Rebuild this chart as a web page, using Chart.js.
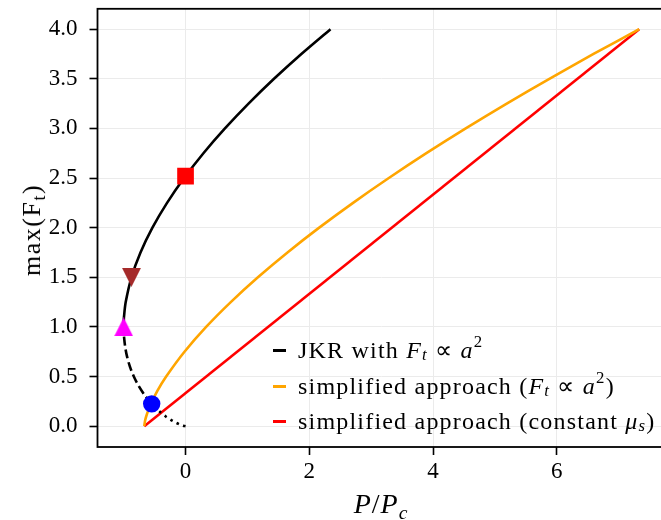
<!DOCTYPE html>
<html>
<head>
<meta charset="utf-8">
<script src="https://cdn.jsdelivr.net/npm/chart.js@4.4.1/dist/chart.umd.min.js"></script>
<style>
html, body { margin: 0; padding: 0; background: #fff; }
#wrap { position: relative; width: 661px; height: 520px; overflow: hidden; font-family: "Liberation Serif", serif; color: #000; }
#plot { position: absolute; left: 0; top: -3px; }
.txt { position: absolute; white-space: nowrap; font-size: 26px; line-height: 1; }
.sub { font-size: 70%; position: relative; top: 0.3em; }
.sup { font-size: 70%; position: relative; top: -0.45em; }
.row { position: absolute; left: 273px; height: 34px; display: flex; align-items: center; font-size: 24px; letter-spacing: 1.2px; white-space: nowrap; }
.swatch { display: inline-block; width: 13px; height: 3px; margin-right: 12px; }
</style>
</head>
<body>
<div id="wrap">
    <canvas id="plot" width="677" height="523"></canvas>

    <div class="txt" id="ytitle" style="left:32px; top:230px; transform: translate(-50%, -50%) rotate(-90deg); letter-spacing: 1.5px;">max(F<span class="sub">t</span>)</div>
    <div class="txt" id="xtitle" style="left:381px; top:504px; font-size:28px; letter-spacing: 1px; transform: translate(-50%, -50%);"><i>P</i>/<i>P</i><span class="sub"><i>c</i></span></div>

    <div class="row" style="top:333px;"><span class="swatch" style="background:#000"></span>JKR with&nbsp;<i>F</i><span class="sub"><i>t</i></span>&nbsp;∝&nbsp;<i>a</i><span class="sup">2</span></div>
    <div class="row" style="top:369px;"><span class="swatch" style="background:#ffa500"></span>simplified approach (<i>F</i><span class="sub"><i>t</i></span>&nbsp;∝&nbsp;<i>a</i><span class="sup">2</span>)</div>
    <div class="row" style="top:404px;"><span class="swatch" style="background:#ff0000"></span>simplified approach (constant&nbsp;<i>μ</i><span class="sub"><i>s</i></span>)</div>
</div>

<script>
// Values (x = P/Pc, y = max(Ft))

// JKR with Ft ~ a^2, stable branch (solid)
const jkrStableP = [-1.0, -0.999, -0.995, -0.967, -0.874, -0.728, -0.535, -0.299, -0.023, 0.289, 0.637, 1.018, 1.430, 1.872, 2.343];
const jkrStableF = [1.0, 1.05, 1.1, 1.25, 1.5, 1.75, 2.0, 2.25, 2.5, 2.75, 3.0, 3.25, 3.5, 3.75, 4.0];

// JKR unstable branch (dashed)
const jkrUnstableP = [-0.547, -0.647, -0.753, -0.836, -0.899, -0.945, -0.976, -0.994, -0.999, -1.0];
const jkrUnstableF = [0.225, 0.3, 0.4, 0.5, 0.6, 0.7, 0.8, 0.9, 0.95, 1.0];

// JKR tail down to zero (dotted)
const jkrTailP = [0.0, -0.037, -0.104, -0.200, -0.324, -0.424, -0.547];
const jkrTailF = [0.0, 0.005, 0.02, 0.05, 0.1, 0.15, 0.225];

// simplified approach (Ft ~ a^2)
const simpA2P = [-0.667, -0.656, -0.635, -0.577, -0.46, -0.313, -0.017, 0.333, 0.731, 1.17, 1.648, 2.161, 2.708, 3.286, 3.893, 4.529, 5.192, 5.881, 6.595, 7.333];
const simpA2F = [0.0, 0.05, 0.1, 0.2, 0.35, 0.5, 0.75, 1.0, 1.25, 1.5, 1.75, 2.0, 2.25, 2.5, 2.75, 3.0, 3.25, 3.5, 3.75, 4.0];

// simplified approach (constant mu_s)
const simpMuP = [-0.667, 7.333];
const simpMuF = [0.0, 4.0];

// special points: square, down triangle, up triangle, circle
const markerP = [0.0, -0.874, -1.0, -0.547];
const markerF = [2.52, 1.5, 1.0, 0.225];

// tick labels
const xTicks = [0, 2, 4, 6];
const yTicks = [0.0, 0.5, 1.0, 1.5, 2.0, 2.5, 3.0, 3.5, 4.0];

function zip(xs, ys) {
    return xs.map((x, i) => ({ x: x, y: ys[i] }));
}

// matplotlib style triangle (width == height)
function triangleMarker(color, size, down) {
    const c = document.createElement('canvas');
    c.width = size;
    c.height = size;
    const g = c.getContext('2d');
    g.fillStyle = color;
    g.beginPath();
    if (down) {
        g.moveTo(0, 0); g.lineTo(size, 0); g.lineTo(size / 2, size);
    } else {
        g.moveTo(size / 2, 0); g.lineTo(size, size); g.lineTo(0, size);
    }
    g.closePath();
    g.fill();
    return c;
}

const framePlugin = {
    id: 'frame',
    afterDraw(chart) {
        const ctx = chart.ctx;
        const a = chart.chartArea;
        ctx.save();
        ctx.strokeStyle = '#000';
        ctx.lineWidth = 1.8;
        ctx.strokeRect(a.left, a.top, a.right - a.left, a.bottom - a.top);
        ctx.restore();
    }
};

const tickFont = { family: 'Liberation Serif', size: 23 };
const lineStyle = { showLine: true, pointRadius: 0, borderWidth: 2.6, tension: 0.3, fill: false, order: 2 };

new Chart(document.getElementById('plot'), {
    type: 'scatter',
    data: {
        datasets: [
            Object.assign({ data: zip(jkrStableP, jkrStableF), borderColor: '#000' }, lineStyle),
            Object.assign({ data: zip(jkrUnstableP, jkrUnstableF), borderColor: '#000', borderDash: [9, 4] }, lineStyle),
            Object.assign({ data: zip(jkrTailP, jkrTailF), borderColor: '#000', borderDash: [2.6, 4.4] }, lineStyle),
            Object.assign({ data: zip(simpA2P, simpA2F), borderColor: '#ffa500' }, lineStyle),
            Object.assign({}, lineStyle, { data: zip(simpMuP, simpMuF), borderColor: '#ff0000', tension: 0 }),
            {
                data: zip(markerP, markerF),
                showLine: false,
                order: 1,
                pointStyle: ['rect', triangleMarker('#a52a2a', 19, true), triangleMarker('#ff00ff', 19, false), 'circle'],
                pointRadius: [11.8, 9.5, 9.5, 8.7],
                pointBackgroundColor: ['#ff0000', '#a52a2a', '#ff00ff', '#0000ff'],
                pointBorderWidth: 0,
                pointBorderColor: 'rgba(0,0,0,0)'
            }
        ]
    },
    options: {
        responsive: false,
        animation: false,
        events: [],
        // axes box on screen: left 97.5, top 9, right ~665 (past the cropped edge), bottom 447
        layout: { padding: { left: 0, top: 6, right: 12, bottom: 0 } },
        plugins: {
            legend: { display: false },
            tooltip: { enabled: false }
        },
        scales: {
            x: {
                type: 'linear',
                min: -1.423,
                max: 7.75,
                afterBuildTicks: (scale) => { scale.ticks = xTicks.map(v => ({ value: v })); },
                afterFit: (scale) => {
                    scale.height = 73;
                    scale.paddingLeft = 0;
                    scale.paddingRight = 0;
                },
                border: { display: false },
                grid: { color: '#ebebeb', lineWidth: 1, drawTicks: true, tickLength: 8, tickColor: '#000', tickWidth: 1.6 },
                ticks: { color: '#000', font: tickFont, padding: 3, maxRotation: 0, callback: (v) => String(v) }
            },
            y: {
                type: 'linear',
                min: -0.21,
                max: 4.205,
                afterBuildTicks: (scale) => { scale.ticks = yTicks.map(v => ({ value: v })); },
                afterFit: (scale) => {
                    scale.width = 97.5;
                    scale.paddingTop = 0;
                    scale.paddingBottom = 0;
                },
                border: { display: false },
                grid: { color: '#ebebeb', lineWidth: 1, drawTicks: true, tickLength: 8, tickColor: '#000', tickWidth: 1.6 },
                ticks: { color: '#000', font: tickFont, padding: 12, callback: (v) => v.toFixed(1) }
            }
        }
    },
    plugins: [framePlugin]
});
</script>
</body>
</html>
